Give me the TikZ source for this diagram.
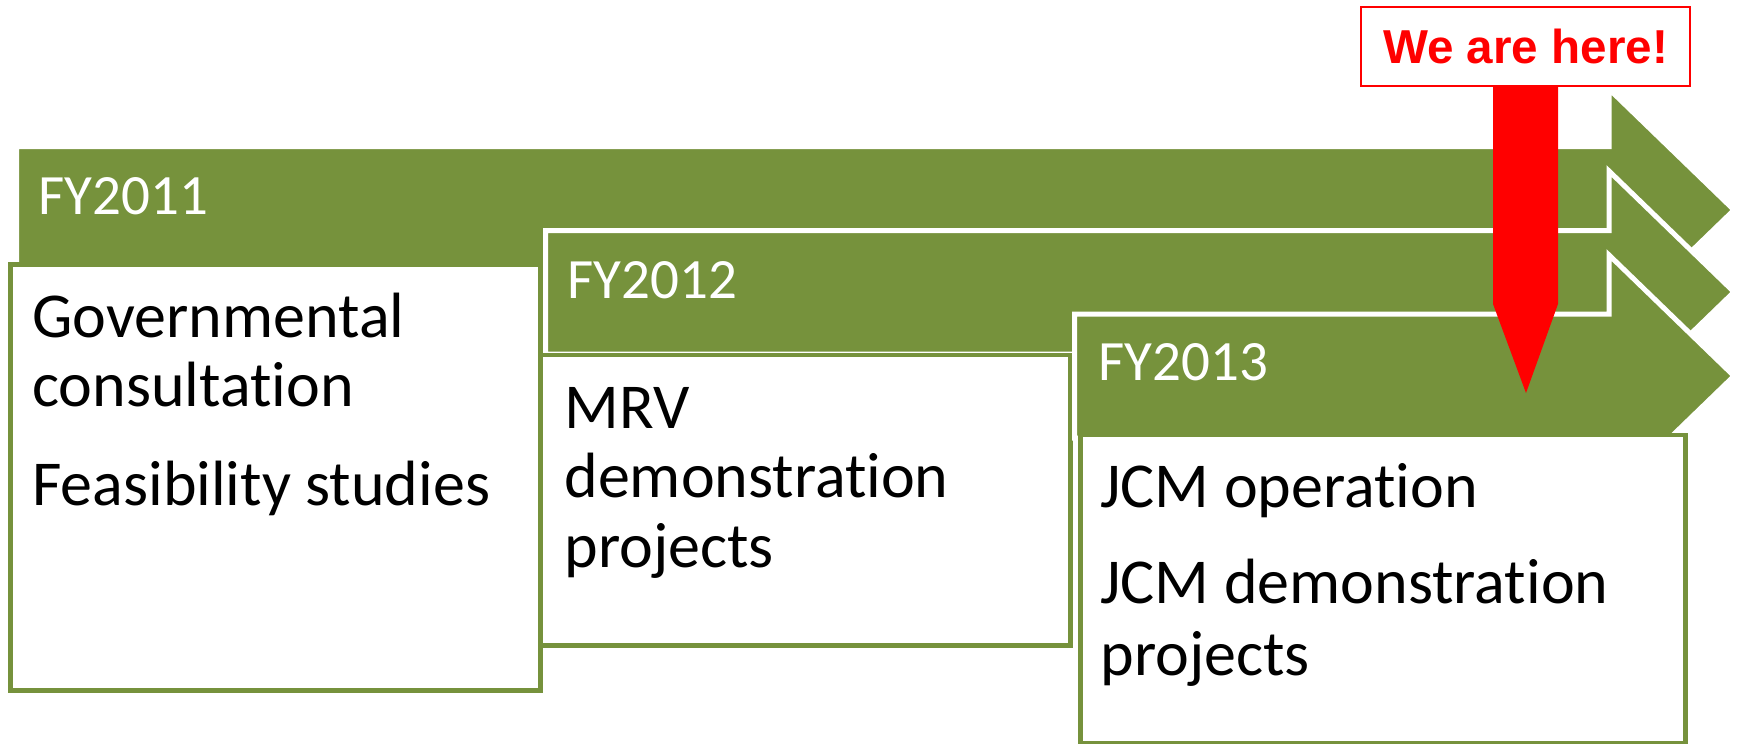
\documentclass[tikz,border=0pt]{standalone}
\usepackage{fontspec}
\setmainfont{Carlito}[Ligatures=NoCommon]
\newfontfamily\arialfont{Liberation Sans}
\definecolor{jcmgreen}{HTML}{76923C}
\begin{document}
\begin{tikzpicture}[x=0.5pt,y=-0.5pt,
  arrowshape/.style={fill=jcmgreen, draw=white, line width=2.5pt, line join=miter},
  phasebox/.style={fill=white, draw=jcmgreen, line width=2.25pt},
  fylabel/.style={anchor=base west, inner sep=0pt, text=white, font=\fontsize{28.5}{34}\selectfont},
  boxtext/.style={anchor=base west, inner sep=0pt, text=black, font=\fontsize{32}{38}\selectfont},
  herebox/.style={draw=red, line width=1pt, fill=white, text=red, minimum width=164.5pt, minimum height=39.5pt, inner sep=0pt, font=\arialfont\bfseries\fontsize{23.8}{28}\selectfont},
  pointer/.style={fill=red}]
\useasboundingbox (0,0) rectangle (1737,744);
\fill[white] (0,0) rectangle (1737,744);

% FY2011 arrow and box
\draw[arrowshape] (16.5,146.5) -- (1609,146.5) -- (1609,89) -- (1734,210) -- (1609,331) -- (1609,273.5) -- (16.5,273.5) -- cycle;
\node[fylabel] (fy1) at (38,214) {FY2011};
\draw[phasebox] (10.5,264.5) rectangle (540.5,690.5);
\node[boxtext] (t11) at (32,337) {Governmental};
\node[boxtext] (t12) at (32,406) {consultation};
\node[boxtext] (t13) at (32,505) {Feasibility studies};

% FY2012 arrow and box
\draw[arrowshape] (545.5,230.5) -- (1609,230.5) -- (1609,171) -- (1734,292) -- (1609,413) -- (1609,354) -- (545.5,354) -- cycle;
\node[fylabel] (fy2) at (567,298) {FY2012};
\draw[phasebox] (540.5,355) rectangle (1070.5,645.5);
\node[boxtext] (t21) at (564,428) {MRV};
\node[boxtext] (t22) at (564,497) {demonstration};
\node[boxtext] (t23) at (564,567) {projects};

% FY2013 arrow and box
\draw[arrowshape] (1074.5,314) -- (1609,314) -- (1609,255) -- (1734,376) -- (1609,497) -- (1609,438) -- (1074.5,438) -- cycle;
\node[fylabel] (fy3) at (1098,380) {FY2013};
\draw[phasebox] (1080.5,435) rectangle (1685.5,743.5);
\node[boxtext] (t31) at (1100,507) {JCM operation};
\node[boxtext] (t32) at (1100,603) {JCM demonstration};
\node[boxtext] (t33) at (1100,675) {projects};

% We are here marker
\node[herebox] (here) at (1525.5,46.5) {We are here!};
\fill[pointer] (1493,86) -- (1558,86) -- (1558,304) -- (1526,393) -- (1493,304) -- cycle;
\end{tikzpicture}
\end{document}
